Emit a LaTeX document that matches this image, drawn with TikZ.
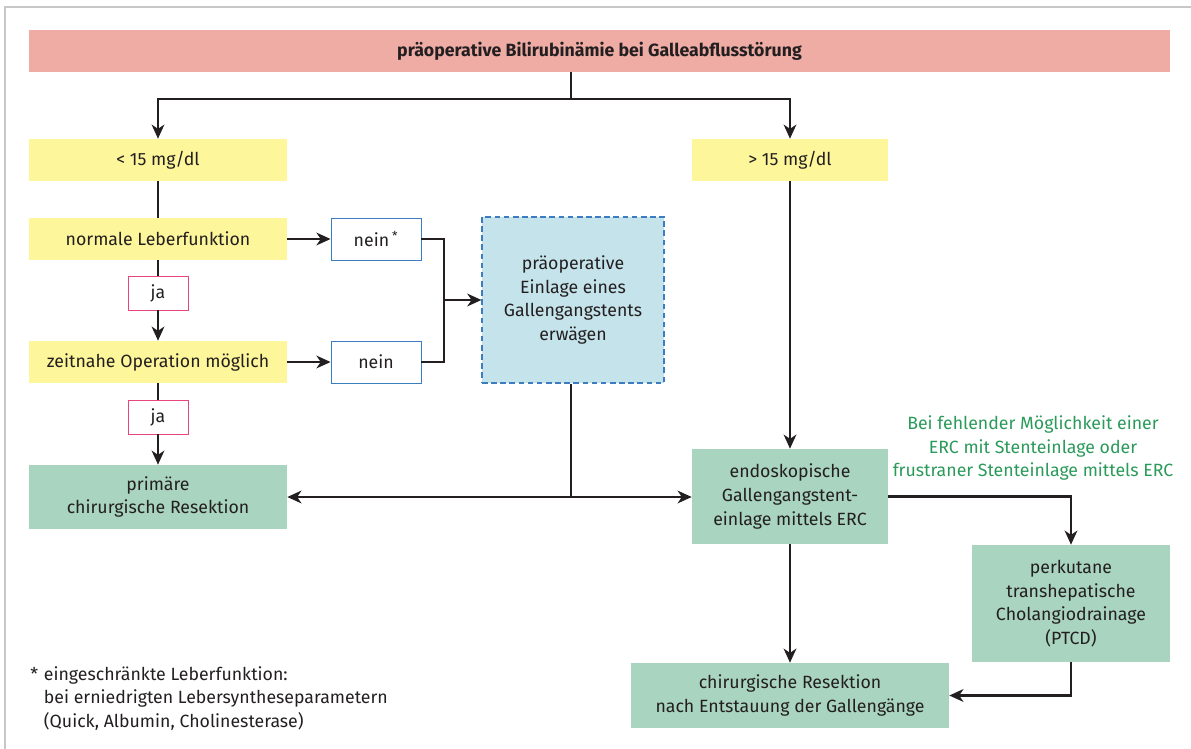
\documentclass[tikz,border=0pt]{standalone}
\usepackage{fontspec}
\setmainfont{Fira Sans}
\usepackage{tikz}
\usetikzlibrary{arrows.meta}
\definecolor{titlered}{RGB}{238, 172, 165}
\definecolor{boxyellow}{RGB}{253, 246, 154}
\definecolor{boxgreen}{RGB}{169, 212, 191}
\definecolor{boxblue}{RGB}{197, 227, 234}
\definecolor{lineblue}{RGB}{59, 125, 190}
\definecolor{jared}{RGB}{232, 69, 127}
\definecolor{notegreen}{RGB}{42, 154, 90}
\definecolor{darkline}{RGB}{35, 31, 32}

\begin{document}
\begin{tikzpicture}[x=0.025cm, y=-0.025cm,
  every node/.style={font=\fontsize{12.6}{16.8}\selectfont, text=darkline},
  ybox/.style={rectangle, fill=boxyellow, minimum height=1.05cm, align=center},
  gbox/.style={rectangle, fill=boxgreen, align=center},
  nbox/.style={rectangle, draw=lineblue, fill=white, line width=0.6pt,
               minimum width=2.25cm, minimum height=1.05cm},
  jbox/.style={rectangle, draw=jared, fill=white, line width=0.6pt,
               minimum width=1.5cm, minimum height=0.85cm},
  arr/.style={-{Stealth[length=10pt, width=9pt, inset=3pt]}, line width=1.8pt, darkline},
  lin/.style={line width=1.8pt, darkline}
]
\useasboundingbox (0,0) rectangle (1191,749);
\draw[black!22, line width=1.2pt] (5,760) -- (5,7) -- (1200,7);

% top
\node[rectangle, fill=titlered, minimum width=28.525cm, minimum height=1.05cm,
      font=\fontsize{12.6}{16.8}\selectfont\bfseries] (title) at (599.5,51)
      {präoperative Bilirubinämie bei Galleabflusstörung};
\node[ybox, minimum width=6.45cm] (low)  at (158,160) {< 15 mg/dl};
\node[ybox, minimum width=4.9cm]  (high) at (790,160) {> 15 mg/dl};

% left column
\node[ybox, minimum width=6.45cm] (liver) at (158,239) {normale Leberfunktion};
\node[jbox] (ja1) at (158,293) {ja};
\node[ybox, minimum width=6.45cm] (soon) at (158,362) {zeitnahe Operation möglich};
\node[jbox] (ja2) at (158,417) {ja};
\node[gbox, minimum width=6.45cm, minimum height=1.6cm] (primary) at (158,497)
      {primäre\\chirurgische Resektion};
\node[nbox] (nein1) at (376,239) {nein\,\textsuperscript{*}};
\node[nbox] (nein2) at (376,362) {nein};
\node[rectangle, draw=lineblue, dash pattern=on 4pt off 2.5pt, fill=boxblue,
      line width=0.8pt, minimum width=4.55cm, minimum height=4.15cm,
      align=center] (stent) at (573,300)
      {präoperative\\Einlage eines\\Gallengangstents\\erwägen};

% right column
\node[gbox, minimum width=4.9cm, minimum height=2.375cm] (erc) at (790,496.5)
      {endoskopische\\Gallengangstent-\\einlage mittels ERC};
\node[gbox, minimum width=4.95cm, minimum height=2.925cm] (ptcd) at (1071,603.5)
      {perkutane\\transhepatische\\Cholangiodrainage\\(PTCD)};
\node[gbox, minimum width=7.95cm, minimum height=1.625cm] (after) at (790,695.5)
      {chirurgische Resektion\\nach Entstauung der Gallengänge};
\node[align=center, text=notegreen] (note) at (1033,448)
      {Bei fehlender Möglichkeit einer\\ERC mit Stenteinlage oder\\frustraner Stenteinlage mittels ERC};

% footnote
\node[anchor=north west, align=left, inner sep=0pt] (foot) at (30,666)
      {*\,\,eingeschränkte Leberfunktion:\\\hphantom{*\,\,}bei erniedrigten Lebersyntheseparametern\\\hphantom{*\,\,}(Quick, Albumin, Cholinesterase)};

\coordinate (split) at (571,99);
\coordinate (join) at (444,300);
\coordinate (fork) at (571,497);

\draw[lin] (title.south -| split) -- (split);
\draw[arr] (split) -| (low.north);
\draw[arr] (split) -| (high.north);
\draw[lin] (low) -- (liver);
\draw[lin] (liver) -- (ja1);
\draw[arr] (ja1) -- (soon);
\draw[lin] (soon) -- (ja2);
\draw[arr] (ja2) -- (primary);
\draw[arr] (liver) -- (nein1);
\draw[arr] (soon) -- (nein2);
\draw[lin] (nein1.east) -| (join) |- (nein2.east);
\draw[arr] (join) -- (stent.west |- join);
\draw[lin] (stent.south -| fork) -- (fork);
\draw[arr] (fork) -- (primary.east);
\draw[arr] (fork) -- (erc.west |- fork);
\draw[arr] (high) -- (erc);
\draw[arr] (erc.east) -| (ptcd.north);
\draw[arr] (erc) -- (after);
\draw[arr] (ptcd.south) |- (after.east);
\end{tikzpicture}
\end{document}
